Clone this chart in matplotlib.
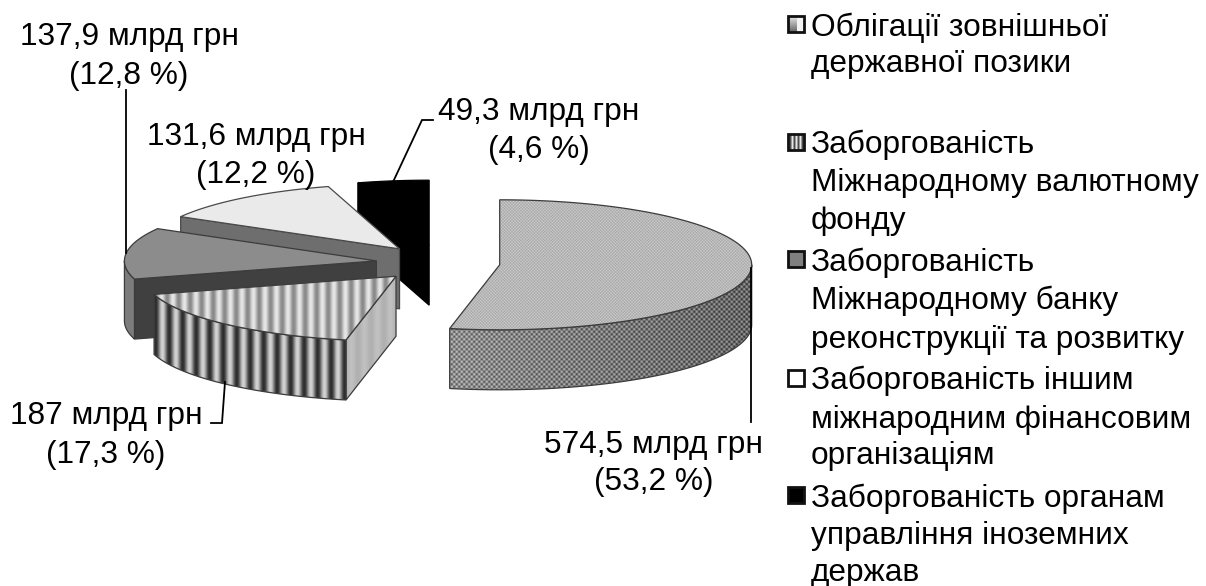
import numpy as np
import matplotlib
matplotlib.use('Agg')
import matplotlib.pyplot as plt
from matplotlib.patches import Polygon, Rectangle

plt.rcParams['font.family'] = ['Liberation Sans', 'DejaVu Sans']

# debt structure, clockwise from 12 o'clock
values = [574.5, 187, 137.9, 131.6, 49.3]
shares = [53.2, 17.3, 12.8, 12.2, 4.6]
legend_lines = [
    ['Облігації зовнішньої', 'державної позики'],
    ['Заборгованість', 'Міжнародному валютному', 'фонду'],
    ['Заборгованість', 'Міжнародному банку', 'реконструкції та розвитку'],
    ['Заборгованість іншим', 'міжнародним фінансовим', 'організаціям'],
    ['Заборгованість органам', 'управління іноземних', 'держав'],
]

# pie geometry in pixels
CX, CY = 438, 263
RX, RY = 252, 65
EX, EY = 62, 18
DEPTH = 60
FS = 22.8

fig = plt.figure(figsize=(12.06, 5.86), dpi=100)
ax = fig.add_axes([0, 0, 1, 1])
ax.axis('off')


def fine_dots(xx, yy):
    return 0.72 + 0.08 * np.cos(np.pi * xx / 1.5) * np.cos(np.pi * yy / 1.5)

def checker(xx, yy):
    fade = 0.56 - 0.16 * (xx - xx.min()) / (xx.max() - xx.min())
    return fade + 0.2 * np.sin(2 * np.pi * xx / 5) * np.sin(2 * np.pi * yy / 5)

def rim_stripes(xx, yy):
    return 0.5 + 0.32 * np.cos(2 * np.pi * xx / 13.5)

def top_stripes(xx, yy):
    return 0.72 + 0.18 * np.cos(2 * np.pi * xx / 11.5)

def face_stripes(xx, yy):
    return 0.72 + 0.03 * np.cos(2 * np.pi * xx / 13)


# top, rim and visible cut face of each slice
tops = [fine_dots, top_stripes, '#8c8c8c', '#eaeaea', 'black']
rims = [checker, rim_stripes, '#7c7c7c', '#6e6e6e', 'black']
faces = [None, face_stripes, '#404040', '#6e6e6e', 'black']
edge_colors = ['#3c3c3c', '#3c3c3c', '#3c3c3c', '#4a4a4a', 'black']


def paint(xs, ys, fill, edge):
    poly = Polygon(np.column_stack([xs, ys]), closed=True, fc='none', ec=edge, lw=0.9, zorder=3)
    if callable(fill):
        x0, x1 = np.floor(min(xs)), np.ceil(max(xs))
        y0, y1 = np.floor(min(ys)), np.ceil(max(ys))
        xx, yy = np.meshgrid(np.arange(x0, x1), np.arange(y0, y1))
        im = ax.imshow(fill(xx, yy), extent=(x0, x1, y1, y0), cmap='gray', vmin=0, vmax=1,
                       interpolation='bilinear', aspect='auto', zorder=3)
        ax.add_patch(poly)
        im.set_clip_path(poly)
    else:
        poly.set_facecolor(fill)
        ax.add_patch(poly)


def draw_slice(i, a0, a1):
    mid = np.radians((a0 + a1) / 2)
    px = CX + EX * np.sin(mid)
    py = CY - EY * np.cos(mid)
    t = np.radians(np.linspace(a0, a1, 120))
    rx = px + RX * np.sin(t)
    ry = py - RY * np.cos(t)

    # cut face looking at the viewer
    if faces[i] is not None and np.sin(np.radians(a0)) < -1e-6:
        ex, ey = px + RX * np.sin(np.radians(a0)), py - RY * np.cos(np.radians(a0))
        paint([px, ex, ex, px], [py, ey, ey + DEPTH, py + DEPTH], faces[i], edge_colors[i])

    # outer rim, only the front half of the ellipse shows
    lo, hi = max(a0, 90), min(a1, 270)
    if lo < hi:
        tr = np.radians(np.linspace(lo, hi, 120))
        bx = px + RX * np.sin(tr)
        by = py - RY * np.cos(tr)
        paint(np.r_[bx, bx[::-1]], np.r_[by, by[::-1] + DEPTH], rims[i], edge_colors[i])

    paint(np.r_[px, rx], np.r_[py, ry], tops[i], edge_colors[i])


edges = np.r_[0, np.cumsum(values)] / np.sum(values) * 360
for i in [4, 3, 2, 1, 0]:
    draw_slice(i, edges[i], edges[i + 1])

# leader lines
leaders = [
    ([751, 751], [268, 422]),
    ([211, 222, 225], [423, 423, 382]),
    ([126, 126], [90, 253]),
    ([433, 422, 393], [120, 120, 182]),
]
for lx, ly in leaders:
    ax.plot(lx, ly, color='black', lw=1.3, zorder=4, solid_joinstyle='miter')

# value labels: centre x and baselines of the two lines
label_pos = [(654, 453, 490), (106, 424, 463), (129, 45, 84), (256, 145, 183), (539, 120, 158)]
for v, s, (lx, y1, y2) in zip(values, shares, label_pos):
    ax.text(lx, y1, f'{v:g}'.replace('.', ',') + ' млрд грн', fontsize=FS, ha='center', va='baseline')
    ax.text(lx, y2, '(' + f'{s:g}'.replace('.', ',') + ' %)', fontsize=FS, ha='center', va='baseline')

# legend
def swatch_grad(xx, yy):
    v = np.full(xx.shape, 0.95)
    left = xx < xx.min() + 9
    v[left] = 0.9 - 0.5 * (yy[left] - yy.min()) / (yy.max() - yy.min())
    return v

def swatch_stripes(xx, yy):
    return 0.6 + 0.3 * np.cos(2 * np.pi * xx / 4)

swatches = [swatch_grad, swatch_stripes, '#808080', 'white', 'black']
swatch_y = [24, 142, 259, 378, 495]
legend_base = [[36, 72], [153, 191, 229], [271, 309, 348], [389, 428, 464], [507, 544, 581]]
for fill, sy, lines, bases in zip(swatches, swatch_y, legend_lines, legend_base):
    x0, y0, s = 788, sy - 8, 16
    rect = Rectangle((x0, y0), s, s, fc='none', ec='#111111', lw=2, zorder=3)
    if callable(fill):
        xx, yy = np.meshgrid(np.arange(x0, x0 + s), np.arange(y0, y0 + s))
        ax.imshow(fill(xx, yy), extent=(x0, x0 + s, y0 + s, y0), cmap='gray', vmin=0, vmax=1,
                  interpolation='nearest', aspect='auto', zorder=2)
    else:
        rect.set_facecolor(fill)
    ax.add_patch(rect)
    for line, b in zip(lines, bases):
        ax.text(811, b, line, fontsize=FS, ha='left', va='baseline')

ax.set_xlim(0, 1206)
ax.set_ylim(586, 0)
fig.savefig('out.png', dpi=100)
